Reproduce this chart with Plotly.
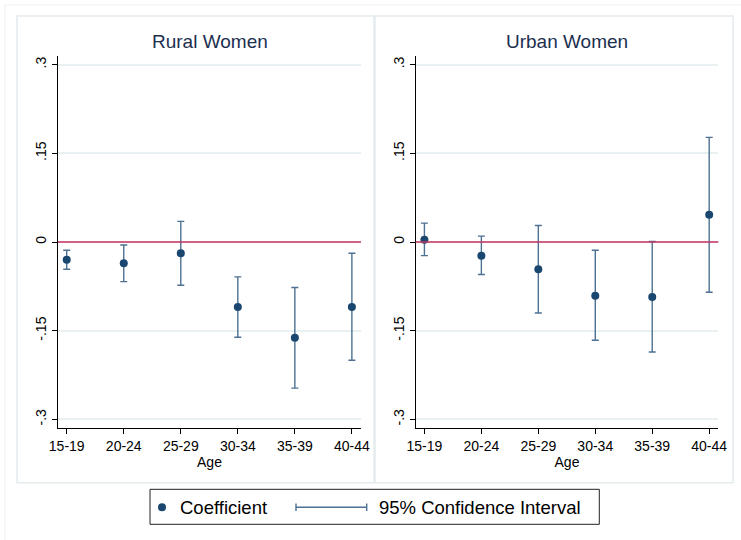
import plotly.graph_objects as go
from plotly.subplots import make_subplots

W, H = 741, 540

ages = ["15-19", "20-24", "25-29", "30-34", "35-39", "40-44"]

rural_coef = [-0.030, -0.036, -0.019, -0.110, -0.162, -0.110]
rural_lo = [-0.046, -0.067, -0.073, -0.161, -0.247, -0.200]
rural_hi = [-0.014, -0.005, 0.035, -0.059, -0.077, -0.019]

urban_coef = [0.004, -0.023, -0.046, -0.091, -0.093, 0.046]
urban_lo = [-0.023, -0.055, -0.120, -0.166, -0.186, -0.085]
urban_hi = [0.032, 0.010, 0.028, -0.014, 0.001, 0.177]

y_ticks = [-0.3, -0.15, 0, 0.15, 0.3]
y_ticktext = ["-.3", "-.15", "0", ".15", ".3"]

panel_titles = ["Rural Women", "Urban Women"]

NAVY = "#1a476f"
CI_COLOR = "#4c7193"
RED = "#c9355e"
GRID = "#e8f0f1"
FRAME = "#e4ecee"
FONT = "Liberation Sans, Arial, sans-serif"


def px(x):
    return x / W


def py(y):
    return 1 - y / H


fig = make_subplots(rows=1, cols=2)

panels = [
    (rural_coef, rural_lo, rural_hi, 1),
    (urban_coef, urban_lo, urban_hi, 2),
]
for coef, lo, hi, col in panels:
    fig.add_trace(
        go.Scatter(
            x=ages,
            y=coef,
            mode="markers",
            marker=dict(color=NAVY, size=8),
            error_y=dict(
                type="data",
                symmetric=False,
                array=[h - c for h, c in zip(hi, coef)],
                arrayminus=[c - l for c, l in zip(coef, lo)],
                color=CI_COLOR,
                thickness=1.4,
                width=3.5,
            ),
            showlegend=False,
            hoverinfo="skip",
        ),
        row=1,
        col=col,
    )

x_domains = [[px(58), px(361)], [px(415.7), px(718.3)]]
y_domain = [py(428.3), py(56)]

axis_common = dict(
    showline=True,
    linecolor="black",
    linewidth=1.2,
    ticks="outside",
    ticklen=5,
    tickcolor="black",
    tickwidth=1,
    tickfont=dict(family=FONT, size=14, color="black"),
    zeroline=False,
    automargin=False,
)

for i, key in enumerate(["xaxis", "xaxis2"]):
    fig.layout[key].update(
        domain=x_domains[i],
        type="category",
        range=[-0.153, 5.16],
        showgrid=False,
        title=dict(text="Age", font=dict(family=FONT, size=14, color="black"), standoff=0),
        **axis_common,
    )

for i, key in enumerate(["yaxis", "yaxis2"]):
    fig.layout[key].update(
        domain=y_domain,
        range=[-0.315, 0.3146],
        tickvals=y_ticks,
        ticktext=y_ticktext,
        tickangle=-90,
        showgrid=True,
        gridcolor=GRID,
        gridwidth=1.5,
        **axis_common,
    )

shapes = []
# outer frame and panel frames
shapes.append(dict(type="rect", xref="paper", yref="paper",
                   x0=px(5), x1=px(760), y0=py(560), y1=py(5),
                   line=dict(color="#eef2f3", width=1.2), layer="below"))
for x0, x1 in [(17, 375), (374, 733)]:
    shapes.append(dict(type="rect", xref="paper", yref="paper",
                       x0=px(x0), x1=px(x1), y0=py(482.7), y1=py(16),
                       line=dict(color=FRAME, width=1.5), layer="below"))

# reference line at zero
for xr, yr in [("x domain", "y"), ("x2 domain", "y2")]:
    shapes.append(dict(type="line", xref=xr, yref=yr, x0=0, x1=1, y0=0, y1=0,
                       line=dict(color=RED, width=1.6), layer="above"))

# legend box
shapes.append(dict(type="rect", xref="paper", yref="paper",
                   x0=px(150), x1=px(599.3), y0=py(524.3), y1=py(489.3),
                   line=dict(color="#222222", width=1), fillcolor="white"))
shapes.append(dict(type="circle", xref="paper", yref="paper",
                   x0=px(158), x1=px(166), y0=py(511.3), y1=py(503.3),
                   line=dict(color=NAVY, width=0), fillcolor=NAVY))
shapes.append(dict(type="line", xref="paper", yref="paper",
                   x0=px(296), x1=px(366.7), y0=py(507.3), y1=py(507.3),
                   line=dict(color=CI_COLOR, width=1.4)))
for xc in (296, 366.7):
    shapes.append(dict(type="line", xref="paper", yref="paper",
                       x0=px(xc), x1=px(xc), y0=py(503.5), y1=py(511.1),
                       line=dict(color=CI_COLOR, width=1.4)))

annotations = []
for i, title in enumerate(panel_titles):
    cx = (x_domains[i][0] + x_domains[i][1]) / 2
    annotations.append(dict(text=title, xref="paper", yref="paper", x=cx, y=py(42),
                            xanchor="center", yanchor="middle", showarrow=False,
                            font=dict(family=FONT, size=19, color="#1c2f4f")))
annotations.append(dict(text="Coefficient", xref="paper", yref="paper",
                        x=px(177.7), y=py(507.3), xanchor="left", yanchor="middle",
                        showarrow=False, font=dict(family=FONT, size=18.5, color="black")))
annotations.append(dict(text="95% Confidence Interval", xref="paper", yref="paper",
                        x=px(377), y=py(507.3), xanchor="left", yanchor="middle",
                        showarrow=False, font=dict(family=FONT, size=18.5, color="black")))

fig.update_layout(
    width=W,
    height=H,
    margin=dict(l=0, r=0, t=0, b=0),
    paper_bgcolor="white",
    plot_bgcolor="white",
    shapes=shapes,
    annotations=annotations,
    showlegend=False,
)

fig.write_html("out.html")
